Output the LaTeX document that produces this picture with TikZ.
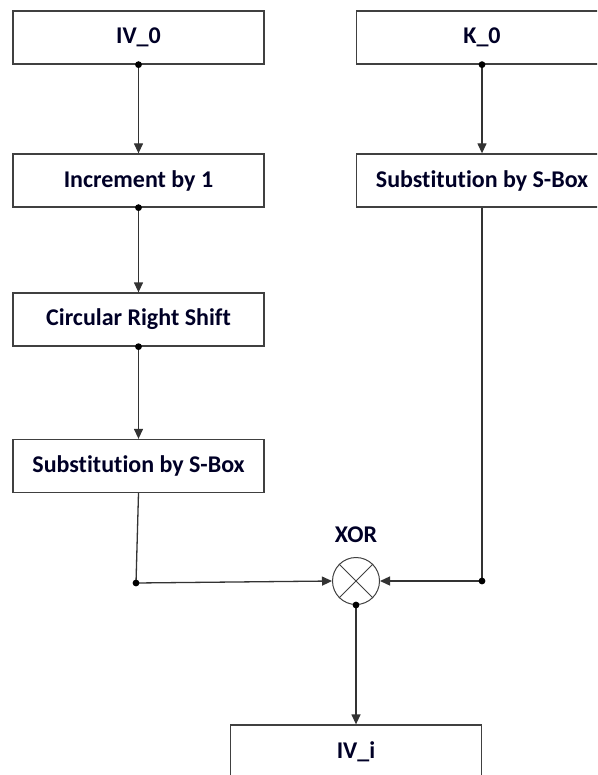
\documentclass[tikz,border=0pt]{standalone}
\usepackage{fontspec}
\setmainfont{Carlito}[Ligatures=NoCommon]
\usetikzlibrary{positioning, arrows.meta}

\begin{document}
\begin{tikzpicture}[x=1pt,y=-1pt,
  block/.style={draw=black!75, line width=1.3pt, minimum width=251pt, minimum height=53pt,
    inner sep=0pt, text=black!85!blue, font=\bfseries\fontsize{24}{28}\selectfont},
  link/.style={draw=black!80, line width=1.3pt, -{Triangle[length=10pt,width=9pt]}},
  wire/.style={draw=black!80, line width=1.3pt}]
\useasboundingbox (0,0) rectangle (597,775);
\clip (0,0) rectangle (597,775);

% left column
\node[block] (iv)    at (138.5,37.5)  {IV\_0};
\node[block] (inc)   at (138.5,180.5) {Increment by 1};
\node[block] (shift) at (138.5,319.5) {Circular Right Shift};
\node[block] (sbl)   at (138.5,466)   {Substitution by S-Box};

% right column
\node[block] (k)   at (482,37.5)  {K\_0};
\node[block] (sbr) at (482,180.5) {Substitution by S-Box};

% xor and output
\node[draw=black!75, line width=1pt, circle, minimum size=47pt, inner sep=0pt] (xor) at (356,581) {};
\draw[black!75, line width=1pt] (xor.north east) -- (xor.south west) (xor.north west) -- (xor.south east);
\node[text=black!85!blue, font=\bfseries\fontsize{24}{28}\selectfont] (xorlbl) at (356,535) {XOR};
\node[block] (ivi) at (356,751.5) {IV\_i};

\coordinate (cl) at (136,583);
\coordinate (cr) at (482,581);

\draw[link] (iv) -- (inc);
\draw[link] (inc) -- (shift);
\draw[link] (shift) -- (sbl);
\draw[link] (k) -- (sbr);
\draw[wire] (sbl.south) -- (cl);
\draw[link] (cl) -- (xor.west);
\draw[wire] (sbr.south) -- (cr);
\draw[link] (cr) -- (xor.east);
\draw[link] (xor.south) -- (ivi.north);

% dots
\foreach \p in {iv.south, inc.south, shift.south, k.south, xor.south, cl, cr}
  \fill (\p) circle (3.4pt);

\end{tikzpicture}
\end{document}
